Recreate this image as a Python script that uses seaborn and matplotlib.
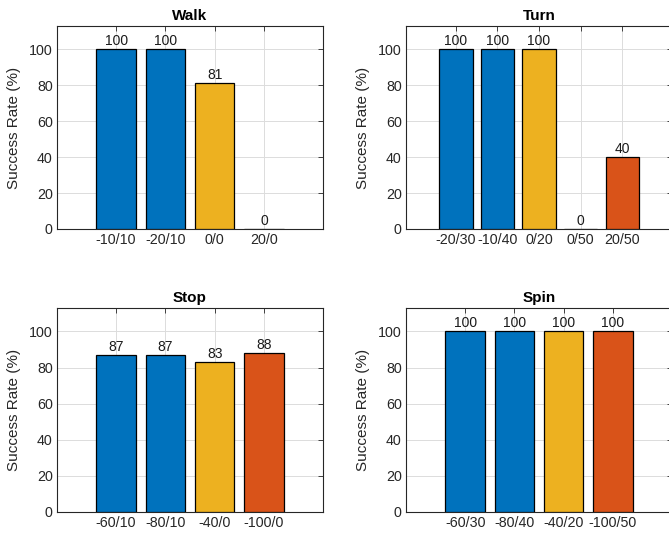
import matplotlib
matplotlib.use("Agg")
import matplotlib.pyplot as plt
import seaborn as sns

# success rates per task
walk_labels = ["-10/10", "-20/10", "0/0", "20/0"]
walk_values = [100, 100, 81, 0]

turn_labels = ["-20/30", "-10/40", "0/20", "0/50", "20/50"]
turn_values = [100, 100, 100, 0, 40]

stop_labels = ["-60/10", "-80/10", "-40/0", "-100/0"]
stop_values = [87, 87, 83, 88]

spin_labels = ["-60/30", "-80/40", "-40/20", "-100/50"]
spin_values = [100, 100, 100, 100]

blue = "#0072BD"
yellow = "#EDB120"
orange = "#D95319"
walk_colors = [blue, blue, yellow, orange]
turn_colors = [blue, blue, yellow, orange, orange]
stop_colors = [blue, blue, yellow, orange]
spin_colors = [blue, blue, yellow, orange]

sns.set_style("whitegrid")
plt.rcParams["font.family"] = ["Liberation Sans", "DejaVu Sans"]

fig = plt.figure(figsize=(6.69, 5.35), dpi=100)

panels = [
    ("Walk", walk_labels, walk_values, walk_colors, [0.0852, 0.5720, 0.3976, 0.3794]),
    ("Turn", turn_labels, turn_values, turn_colors, [0.6069, 0.5720, 0.3976, 0.3794]),
    ("Stop", stop_labels, stop_values, stop_colors, [0.0852, 0.0430, 0.3976, 0.3813]),
    ("Spin", spin_labels, spin_values, spin_colors, [0.6069, 0.0430, 0.3976, 0.3813]),
]

for title, labels, values, colors, rect in panels:
    ax = fig.add_axes(rect)
    sns.barplot(x=labels, y=values, hue=labels, palette=colors, legend=False,
                width=0.8, edgecolor="black", linewidth=0.9, saturation=1,
                ax=ax, zorder=3)
    for cont in ax.containers:
        ax.bar_label(cont, padding=1, fontsize=10, color="#1a1a1a")
    n = len(labels)
    ax.set_xlim(-1.2, n - 1 + 1.2)
    ax.set_ylim(0, 113)
    ax.set_yticks([0, 20, 40, 60, 80, 100])
    ax.set_title(title, fontsize=11, fontweight="bold", pad=4, color="black")
    ax.set_ylabel("Success Rate (%)", fontsize=11, color="#262626", labelpad=6)
    ax.set_xlabel("")
    ax.grid(True, color="#dcdcdc", linewidth=0.7, zorder=0)
    ax.set_axisbelow(True)
    ax.tick_params(direction="in", top=True, right=True, length=3.5, width=0.6,
                   labelsize=10.3, colors="#262626", labelcolor="#262626", pad=3)
    for sp in ax.spines.values():
        sp.set_color("#262626")
        sp.set_linewidth(0.8)
        sp.set_visible(True)

fig.savefig("out.png", dpi=100, facecolor="white")
